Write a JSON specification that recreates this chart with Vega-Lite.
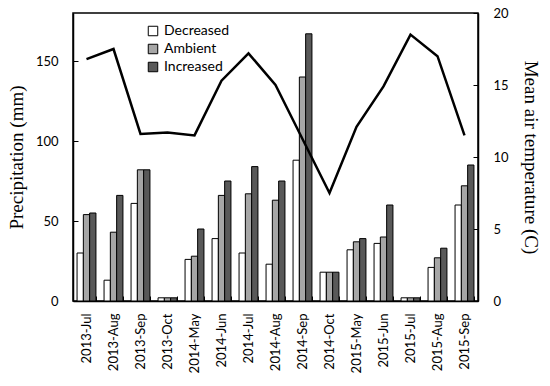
{
  "$schema": "https://vega.github.io/schema/vega-lite/v6.json",
  "width": 405,
  "height": 288,
  "autosize": {"type": "none"},
  "padding": {"left": 73, "top": 13, "right": 72, "bottom": 85},
  "background": "white",
  "config": {
    "view": {"stroke": "black", "strokeWidth": 1.5},
    "axis": {
      "grid": false,
      "domainColor": "black",
      "domainWidth": 1.5,
      "tickColor": "black",
      "labelColor": "black",
      "titleColor": "black",
      "labelFont": "Lato",
      "labelFontSize": 13,
      "titleFont": "Liberation Serif",
      "titleFontSize": 19,
      "titleFontWeight": "normal"
    }
  },
  "datasets": {
    "precip": [
      {"month": "2013-Jul", "treatment": "Decreased", "precip": 30},
      {"month": "2013-Jul", "treatment": "Ambient", "precip": 54},
      {"month": "2013-Jul", "treatment": "Increased", "precip": 55},
      {"month": "2013-Aug", "treatment": "Decreased", "precip": 13},
      {"month": "2013-Aug", "treatment": "Ambient", "precip": 43},
      {"month": "2013-Aug", "treatment": "Increased", "precip": 66},
      {"month": "2013-Sep", "treatment": "Decreased", "precip": 61},
      {"month": "2013-Sep", "treatment": "Ambient", "precip": 82},
      {"month": "2013-Sep", "treatment": "Increased", "precip": 82},
      {"month": "2013-Oct", "treatment": "Decreased", "precip": 2},
      {"month": "2013-Oct", "treatment": "Ambient", "precip": 2},
      {"month": "2013-Oct", "treatment": "Increased", "precip": 2},
      {"month": "2014-May", "treatment": "Decreased", "precip": 26},
      {"month": "2014-May", "treatment": "Ambient", "precip": 28},
      {"month": "2014-May", "treatment": "Increased", "precip": 45},
      {"month": "2014-Jun", "treatment": "Decreased", "precip": 39},
      {"month": "2014-Jun", "treatment": "Ambient", "precip": 66},
      {"month": "2014-Jun", "treatment": "Increased", "precip": 75},
      {"month": "2014-Jul", "treatment": "Decreased", "precip": 30},
      {"month": "2014-Jul", "treatment": "Ambient", "precip": 67},
      {"month": "2014-Jul", "treatment": "Increased", "precip": 84},
      {"month": "2014-Aug", "treatment": "Decreased", "precip": 23},
      {"month": "2014-Aug", "treatment": "Ambient", "precip": 63},
      {"month": "2014-Aug", "treatment": "Increased", "precip": 75},
      {"month": "2014-Sep", "treatment": "Decreased", "precip": 88},
      {"month": "2014-Sep", "treatment": "Ambient", "precip": 140},
      {"month": "2014-Sep", "treatment": "Increased", "precip": 167},
      {"month": "2014-Oct", "treatment": "Decreased", "precip": 18},
      {"month": "2014-Oct", "treatment": "Ambient", "precip": 18},
      {"month": "2014-Oct", "treatment": "Increased", "precip": 18},
      {"month": "2015-May", "treatment": "Decreased", "precip": 32},
      {"month": "2015-May", "treatment": "Ambient", "precip": 37},
      {"month": "2015-May", "treatment": "Increased", "precip": 39},
      {"month": "2015-Jun", "treatment": "Decreased", "precip": 36},
      {"month": "2015-Jun", "treatment": "Ambient", "precip": 40},
      {"month": "2015-Jun", "treatment": "Increased", "precip": 60},
      {"month": "2015-Jul", "treatment": "Decreased", "precip": 2},
      {"month": "2015-Jul", "treatment": "Ambient", "precip": 2},
      {"month": "2015-Jul", "treatment": "Increased", "precip": 2},
      {"month": "2015-Aug", "treatment": "Decreased", "precip": 21},
      {"month": "2015-Aug", "treatment": "Ambient", "precip": 27},
      {"month": "2015-Aug", "treatment": "Increased", "precip": 33},
      {"month": "2015-Sep", "treatment": "Decreased", "precip": 60},
      {"month": "2015-Sep", "treatment": "Ambient", "precip": 72},
      {"month": "2015-Sep", "treatment": "Increased", "precip": 85}
    ],
    "temp": [
      {"month": "2013-Jul", "temp": 16.8},
      {"month": "2013-Aug", "temp": 17.5},
      {"month": "2013-Sep", "temp": 11.6},
      {"month": "2013-Oct", "temp": 11.7},
      {"month": "2014-May", "temp": 11.5},
      {"month": "2014-Jun", "temp": 15.3},
      {"month": "2014-Jul", "temp": 17.2},
      {"month": "2014-Aug", "temp": 15.0},
      {"month": "2014-Sep", "temp": 11.25},
      {"month": "2014-Oct", "temp": 7.5},
      {"month": "2015-May", "temp": 12.1},
      {"month": "2015-Jun", "temp": 14.9},
      {"month": "2015-Jul", "temp": 18.5},
      {"month": "2015-Aug", "temp": 17.0},
      {"month": "2015-Sep", "temp": 11.5}
    ]
  },
  "layer": [
    {
      "data": {"name": "precip"},
      "mark": {"type": "bar", "stroke": "black", "strokeWidth": 1},
      "encoding": {
        "x": {
          "field": "month",
          "type": "nominal",
          "sort": ["2013-Jul","2013-Aug","2013-Sep","2013-Oct","2014-May","2014-Jun","2014-Jul","2014-Aug","2014-Sep","2014-Oct","2015-May","2015-Jun","2015-Jul","2015-Aug","2015-Sep"],
          "scale": {"paddingInner": 0.3, "paddingOuter": 0.15},
          "axis": {"title": null, "labelAngle": -90, "tickBand": "extent", "tickSize": -5, "labelPadding": 17, "domainWidth": 1.5}
        },
        "xOffset": {"field": "treatment", "type": "nominal", "sort": ["Decreased", "Ambient", "Increased"]},
        "y": {
          "field": "precip",
          "type": "quantitative",
          "scale": {"domain": [0, 180]},
          "axis": {"title": "Precipitation (mm)", "values": [0, 50, 100, 150], "tickSize": -5, "labelPadding": 20, "titlePadding": 9}
        },
        "fill": {
          "field": "treatment",
          "type": "nominal",
          "scale": {"domain": ["Decreased", "Ambient", "Increased"], "range": ["#ffffff", "#a6a6a6", "#595959"]},
          "legend": {
            "title": null,
            "orient": "none",
            "legendX": 73,
            "legendY": 11,
            "symbolType": "square",
            "symbolSize": 90,
            "symbolStrokeColor": "black",
            "symbolStrokeWidth": 1,
            "labelFont": "Lato",
            "labelFontSize": 14,
            "labelColor": "black",
            "labelOffset": 4,
            "rowPadding": 4
          }
        }
      }
    },
    {
      "data": {"name": "temp"},
      "mark": {"type": "line", "color": "black", "strokeWidth": 2.5},
      "encoding": {
        "x": {
          "field": "month",
          "type": "nominal",
          "sort": ["2013-Jul","2013-Aug","2013-Sep","2013-Oct","2014-May","2014-Jun","2014-Jul","2014-Aug","2014-Sep","2014-Oct","2015-May","2015-Jun","2015-Jul","2015-Aug","2015-Sep"]
        },
        "y": {
          "field": "temp",
          "type": "quantitative",
          "scale": {"domain": [0, 20]},
          "axis": {"orient": "right", "title": "Mean air temperature (C)", "values": [0, 5, 10, 15, 20], "tickSize": -5, "labelPadding": 20, "titlePadding": 12}
        }
      }
    }
  ],
  "resolve": {"scale": {"y": "independent"}}
}
